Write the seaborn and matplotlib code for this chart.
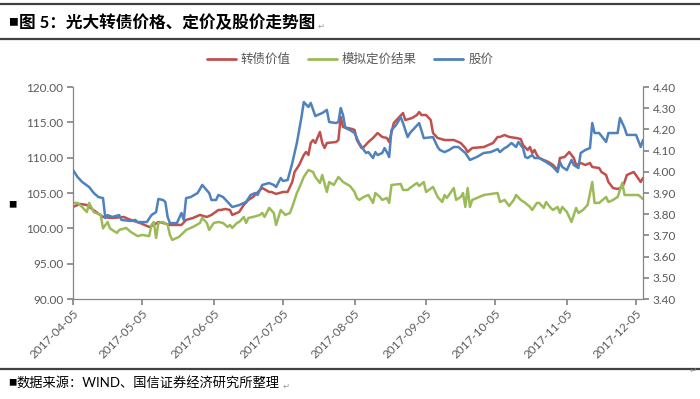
import pandas as pd
import matplotlib.pyplot as plt
import matplotlib.ticker as mticker
from matplotlib.lines import Line2D
import seaborn as sns

sns.set_theme(style='white')
plt.rcParams['font.family'] = ['Lato', 'Noto Sans CJK SC', 'DejaVu Sans']

# ---- data ----
bond_dates = ['04-05', '04-08', '04-11', '04-12', '04-15', '04-18', '04-22', '04-27', '04-30',
              '05-04', '05-08', '05-10', '05-12', '05-14', '05-17', '05-22', '05-24', '05-27',
              '05-30', '06-02', '06-04', '06-07', '06-08', '06-10', '06-12', '06-13', '06-16',
              '06-18', '06-20', '06-22', '06-25', '06-26', '06-29', '06-30', '07-02', '07-05',
              '07-07', '07-09', '07-10', '07-12', '07-14', '07-15', '07-16', '07-17', '07-18',
              '07-19', '07-21', '07-22', '07-23', '07-24', '07-28', '07-29', '07-30', '07-31',
              '08-02', '08-04', '08-05', '08-06', '08-08', '08-09', '08-11', '08-13', '08-15',
              '08-17', '08-19', '08-20', '08-22', '08-24', '08-26', '08-27', '08-30', '09-01',
              '09-02', '09-03', '09-05', '09-07', '09-08', '09-10', '09-13', '09-17', '09-20',
              '09-22', '09-23', '09-25', '09-30', '10-04', '10-06', '10-07', '10-09', '10-11',
              '10-14', '10-16', '10-17', '10-19', '10-20', '10-21', '10-22', '10-23', '10-24',
              '10-26', '10-28', '10-30', '11-01', '11-02', '11-04', '11-06', '11-08', '11-09',
              '11-11', '11-13', '11-15', '11-16', '11-19', '11-20', '11-22', '11-23', '11-25',
              '11-27', '11-29', '11-30', '12-01', '12-04', '12-07', '12-08']
bond_value = [103.03, 103.45, 103.31, 103.03, 102.32, 101.61, 101.47, 101.61, 101.19,
              100.76, 100.20, 100.48, 100.90, 100.76, 100.48, 100.48, 101.19, 101.47,
              101.90, 101.61, 101.90, 102.60, 102.60, 102.74, 102.60, 101.90, 102.32,
              103.31, 104.02, 104.44, 105.43, 105.71, 105.15, 105.15, 104.87, 105.15,
              105.15, 106.56, 107.98, 108.97, 110.38, 110.81, 110.38, 112.08, 112.50,
              112.08, 113.64, 112.08, 111.37, 112.08, 112.22, 112.50, 115.76, 114.34,
              114.20, 114.06, 113.92, 112.50, 111.37, 111.51, 112.22, 112.79, 113.49,
              112.93, 112.79, 112.22, 114.91, 115.62, 116.32, 115.33, 115.62, 116.04,
              116.46, 116.04, 116.04, 115.33, 113.49, 112.79, 112.50, 112.50, 112.08,
              111.37, 110.81, 111.37, 111.51, 112.08, 112.93, 112.93, 113.21, 112.93,
              112.79, 112.64, 111.80, 111.09, 111.51, 110.66, 111.09, 110.38, 109.96,
              109.67, 109.39, 108.97, 108.26, 109.96, 110.10, 110.81, 109.96, 108.97,
              109.25, 108.97, 109.25, 108.68, 108.54, 107.98, 107.55, 106.56, 105.71,
              105.57, 105.86, 106.56, 107.55, 107.98, 106.56, 107.13]

model_dates = ['04-05', '04-07', '04-09', '04-11', '04-12', '04-14', '04-17', '04-18', '04-20',
               '04-21', '04-24', '04-25', '04-28', '04-30', '05-03', '05-05', '05-08', '05-09',
               '05-10', '05-11', '05-12', '05-14', '05-16', '05-17', '05-18', '05-21', '05-24',
               '05-27', '05-30', '05-31', '06-02', '06-03', '06-05', '06-07', '06-09', '06-11',
               '06-12', '06-13', '06-15', '06-16', '06-18', '06-19', '06-20', '06-22', '06-25',
               '06-26', '06-27', '06-29', '07-01', '07-02', '07-04', '07-06', '07-08', '07-09',
               '07-11', '07-12', '07-14', '07-16', '07-18', '07-19', '07-21', '07-22', '07-24',
               '07-25', '07-27', '07-29', '07-31', '08-03', '08-05', '08-06', '08-07', '08-09',
               '08-11', '08-13', '08-14', '08-16', '08-17', '08-19', '08-20', '08-21', '08-25',
               '08-26', '08-28', '08-29', '09-01', '09-02', '09-04', '09-05', '09-08', '09-10',
               '09-12', '09-13', '09-14', '09-17', '09-18', '09-20', '09-21', '09-22', '09-23',
               '09-24', '09-25', '09-27', '09-30', '10-03', '10-06', '10-07', '10-09', '10-11',
               '10-13', '10-14', '10-16', '10-18', '10-20', '10-21', '10-23', '10-24', '10-26',
               '10-27', '10-29', '10-30', '11-01', '11-02', '11-03', '11-05', '11-07', '11-09',
               '11-10', '11-12', '11-14', '11-16', '11-17', '11-19', '11-22', '11-23', '11-25',
               '11-27', '11-29', '11-30', '12-02', '12-06', '12-08']
model_value = [103.60, 103.60, 103.00, 102.30, 103.60, 102.30, 101.90, 100.00, 100.90,
               100.00, 99.35, 99.77, 100.06, 99.50, 98.90, 99.07, 98.90, 100.48,
               100.90, 98.64, 100.76, 100.90, 100.48, 99.07, 98.36, 98.80, 99.77,
               100.20, 100.76, 101.47, 100.76, 99.77, 100.76, 100.90, 100.76, 100.20,
               100.48, 100.06, 100.76, 100.90, 101.61, 100.76, 101.47, 101.61, 101.90,
               102.18, 101.61, 102.89, 102.18, 100.48, 102.60, 101.90, 102.18, 103.03,
               105.00, 105.71, 107.27, 108.26, 107.98, 107.27, 106.42, 107.55, 105.15,
               106.56, 106.14, 107.27, 106.56, 106.00, 105.15, 104.30, 104.02, 104.44,
               104.72, 103.60, 105.00, 104.44, 104.02, 104.30, 103.60, 106.14, 106.28,
               105.43, 105.43, 105.71, 106.42, 106.00, 106.56, 105.15, 105.86, 104.44,
               103.73, 104.72, 104.30, 105.71, 104.02, 104.44, 105.00, 103.03, 105.71,
               103.03, 104.02, 104.30, 104.72, 104.86, 105.00, 103.73, 104.02, 103.17,
               104.02, 104.72, 104.02, 103.60, 103.03, 102.60, 103.60, 103.60, 102.89,
               103.73, 102.89, 102.60, 103.03, 102.18, 103.03, 102.32, 100.90, 102.89,
               102.18, 102.60, 103.31, 106.56, 103.60, 103.60, 104.44, 103.73, 104.02,
               104.44, 106.42, 104.72, 104.72, 104.72, 104.16]

stock_dates = ['04-05', '04-07', '04-09', '04-12', '04-14', '04-16', '04-18', '04-19', '04-20',
               '04-22', '04-25', '04-26', '04-30', '05-02', '05-03', '05-07', '05-09', '05-11',
               '05-12', '05-14', '05-15', '05-16', '05-17', '05-20', '05-21', '05-22', '05-23',
               '05-24', '05-26', '05-29', '05-31', '06-03', '06-04', '06-06', '06-07', '06-09',
               '06-11', '06-13', '06-16', '06-19', '06-21', '06-23', '06-24', '06-26', '06-29',
               '07-01', '07-02', '07-04', '07-05', '07-07', '07-09', '07-11', '07-13', '07-14',
               '07-16', '07-17', '07-19', '07-21', '07-22', '07-24', '07-25', '07-28', '07-29',
               '07-30', '07-31', '08-01', '08-03', '08-05', '08-07', '08-09', '08-10', '08-11',
               '08-13', '08-14', '08-15', '08-17', '08-18', '08-19', '08-20', '08-21', '08-23',
               '08-25', '08-26', '08-28', '08-29', '09-02', '09-04', '09-08', '09-10', '09-11',
               '09-13', '09-15', '09-17', '09-19', '09-22', '09-24', '09-27', '09-30', '10-03',
               '10-06', '10-07', '10-09', '10-10', '10-12', '10-14', '10-15', '10-17', '10-18',
               '10-19', '10-21', '10-22', '10-24', '10-27', '10-29', '10-30', '11-01', '11-02',
               '11-03', '11-05', '11-07', '11-08', '11-10', '11-11', '11-13', '11-15', '11-16',
               '11-17', '11-19', '11-22', '11-23', '11-27', '11-28', '11-30', '12-01', '12-05',
               '12-07', '12-08']
stock_price = [4.008, 3.975, 3.952, 3.928, 3.900, 3.881, 3.876, 3.782, 3.796,
               3.787, 3.796, 3.773, 3.768, 3.773, 3.763, 3.763, 3.796, 3.810,
               3.872, 3.867, 3.858, 3.787, 3.758, 3.758, 3.782, 3.806, 3.773,
               3.876, 3.881, 3.900, 3.938, 3.900, 3.867, 3.867, 3.891, 3.881,
               3.858, 3.834, 3.843, 3.858, 3.891, 3.900, 3.891, 3.938, 3.947,
               3.938, 3.928, 3.971, 3.957, 3.961, 4.041, 4.136, 4.258, 4.329,
               4.306, 4.325, 4.263, 4.273, 4.277, 4.292, 4.235, 4.230, 4.235,
               4.301, 4.268, 4.207, 4.197, 4.183, 4.136, 4.103, 4.089, 4.093,
               4.065, 4.093, 4.079, 4.089, 4.112, 4.093, 4.070, 4.197, 4.221,
               4.258, 4.230, 4.164, 4.183, 4.230, 4.159, 4.164, 4.117, 4.103,
               4.093, 4.103, 4.117, 4.117, 4.089, 4.056, 4.070, 4.089, 4.093,
               4.107, 4.093, 4.112, 4.117, 4.136, 4.117, 4.141, 4.112, 4.070,
               4.065, 4.079, 4.065, 4.065, 4.046, 4.032, 4.023, 3.999, 4.046,
               4.023, 4.008, 4.056, 4.032, 4.018, 4.089, 4.103, 4.112, 4.230,
               4.183, 4.183, 4.141, 4.183, 4.183, 4.254, 4.207, 4.174, 4.174,
               4.117, 4.150]

x_ticks = ['2017-04-05', '2017-05-05', '2017-06-05', '2017-07-05', '2017-08-05',
           '2017-09-05', '2017-10-05', '2017-11-05', '2017-12-05']
left_ticks = [90, 95, 100, 105, 110, 115, 120]
right_ticks = [3.4, 3.5, 3.6, 3.7, 3.8, 3.9, 4.0, 4.1, 4.2, 4.3, 4.4]

RED, GREEN, BLUE = '#C0504D', '#9BBB59', '#4F81BD'
AXIS_C, TEXT_C = '#868686', '#595959'

bond = pd.DataFrame({'date': pd.to_datetime(['2017-' + d for d in bond_dates]), 'v': bond_value})
model = pd.DataFrame({'date': pd.to_datetime(['2017-' + d for d in model_dates]), 'v': model_value})
stock = pd.DataFrame({'date': pd.to_datetime(['2017-' + d for d in stock_dates]), 'v': stock_price})

fig = plt.figure(figsize=(7, 3.99), dpi=100)
ax = fig.add_axes([0.1043, 0.2506, 0.8143, 0.5313])
ax2 = ax.twinx()

sns.lineplot(data=bond, x='date', y='v', ax=ax, color=RED, linewidth=1.8, legend=False)
sns.lineplot(data=model, x='date', y='v', ax=ax, color=GREEN, linewidth=1.8, legend=False)
sns.lineplot(data=stock, x='date', y='v', ax=ax2, color=BLUE, linewidth=1.8, legend=False)

ax.set_xlim(pd.Timestamp('2017-04-05'), pd.Timestamp('2017-12-08'))
ax.set_ylim(90, 120)
ax2.set_ylim(3.4, 4.4)
ax.set_yticks(left_ticks)
ax2.set_yticks(right_ticks)
ax.yaxis.set_major_formatter(mticker.FormatStrFormatter('%.2f'))
ax2.yaxis.set_major_formatter(mticker.FormatStrFormatter('%.2f'))
ax.set_xticks(pd.to_datetime(x_ticks))
ax.set_xticklabels(x_ticks, rotation=45, ha='right', rotation_mode='anchor')

for a in (ax, ax2):
    a.set_xlabel('')
    a.set_ylabel('')
    a.spines['top'].set_visible(False)
    for s in ('left', 'right', 'bottom'):
        a.spines[s].set_color(AXIS_C)
        a.spines[s].set_linewidth(0.9)
ax.spines['right'].set_visible(False)
ax2.spines['left'].set_visible(False)
ax2.spines['bottom'].set_visible(False)

ax.tick_params(axis='y', left=True, direction='out', length=4, color=AXIS_C,
               labelcolor=TEXT_C, labelsize=8.5, pad=3)
ax.tick_params(axis='x', bottom=True, direction='out', length=4, color=AXIS_C,
               labelcolor=TEXT_C, labelsize=8.5, pad=2)
ax2.tick_params(axis='y', right=True, direction='out', length=4, color=AXIS_C,
                labelcolor=TEXT_C, labelsize=8.5, pad=3)

# legend
handles = [Line2D([], [], color=c, linewidth=2) for c in (RED, GREEN, BLUE)]
leg = fig.legend(handles, ['转债价值', '模拟定价结果', '股价'], loc='center',
                 bbox_to_anchor=(0.5, 0.852), ncol=3, frameon=False, fontsize=9,
                 handlelength=2.3, columnspacing=1.4, handletextpad=0.4)
for t in leg.get_texts():
    t.set_color(TEXT_C)

# page decorations (report frame)
for y, lw in ((0.99, 1.6), (0.903, 1.6), (0.075, 1.6)):
    fig.add_artist(Line2D([0, 1], [y, y], transform=fig.transFigure, color='#404040', linewidth=lw))

fig.text(0.011, 0.943, '■', fontsize=7, va='center', color='black')
title = fig.text(0.027, 0.943, '图 5：光大转债价格、定价及股价走势图', fontsize=12,
                 fontweight='bold', va='center', color='black')
fig.text(0.011, 0.04, '■', fontsize=6, va='center', color='black')
foot = fig.text(0.024, 0.04, '数据来源：WIND、国信证券经济研究所整理', fontsize=9.5,
                va='center', color='black')
fig.text(0.012, 0.486, '■', fontsize=6, va='center', color='black')

fig.canvas.draw()
W = fig.bbox.width
for t in (title, foot):
    bb = t.get_window_extent()
    fig.text(bb.x1 / W + 0.004, (bb.y0 + bb.y1) / 2 / fig.bbox.height - 0.008, '↵',
             fontsize=6, va='center', color='#9a9a9a', family=['DejaVu Sans'])
fig.text(0.985, 0.072, '↵', fontsize=6, va='center', color='#9a9a9a', family=['DejaVu Sans'])

plt.savefig('out.png', dpi=100)
